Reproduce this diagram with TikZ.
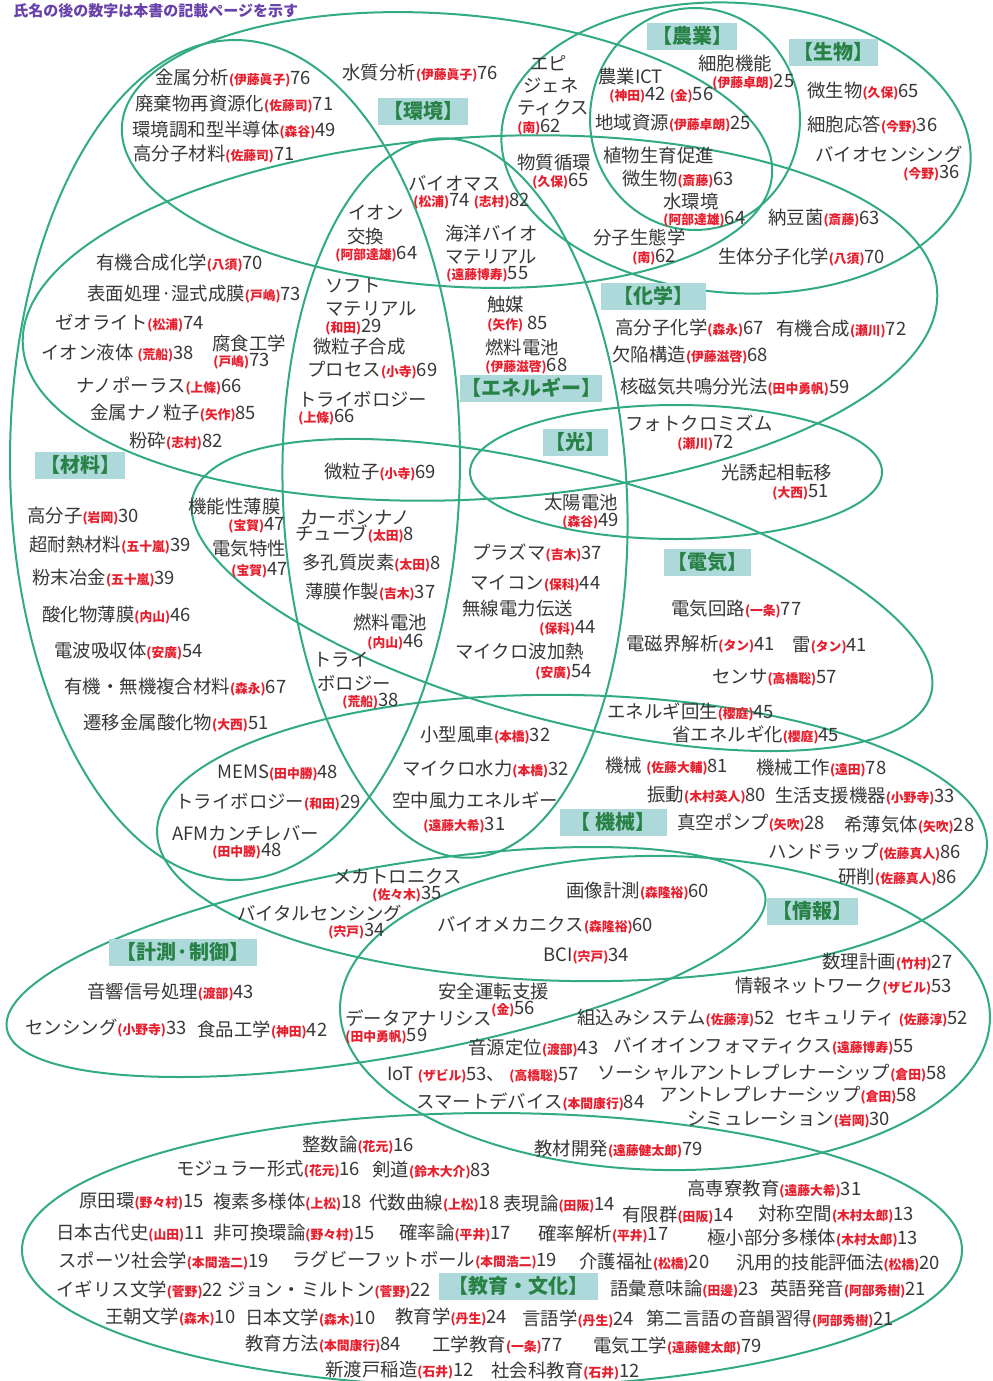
\documentclass[tikz,border=0pt]{standalone}
\usepackage{fontspec}
\setmainfont{Noto Sans CJK JP}
\definecolor{lgreen}{RGB}{50,170,130}
\definecolor{lblue}{RGB}{173,217,219}
\definecolor{dgreen}{RGB}{40,130,70}
\definecolor{nred}{RGB}{232,30,45}
\definecolor{hpurple}{RGB}{105,65,170}
\definecolor{tgray}{RGB}{55,55,55}
\newcommand\nmred[1]{{\color{nred}\fontsize{6.4}{7}\selectfont\bfseries(#1)}}
\tikzset{
  ell/.style={draw=lgreen, line width=1pt},
  itm/.style={anchor=west, inner sep=0pt, text=tgray, font=\fontsize{9.2}{11}\selectfont},
  lbl/.style={fill=lblue, text=dgreen, inner sep=0pt, minimum height=13.5pt, font=\fontsize{10}{12}\selectfont\bfseries},
  hdr/.style={anchor=west, inner sep=0pt, text=hpurple, font=\fontsize{7.5}{9}\selectfont\bfseries}
}
\begin{document}
\begin{tikzpicture}[x=0.5pt,y=-0.5pt]
\useasboundingbox (0,0) rectangle (992,1381);
\clip (0,0) rectangle (992,1381);
% ellipses
\draw[ell, rotate around={-4.4:(447,150)}] (447,150) ellipse [x radius=326, y radius=136];
\draw[ell] (695,119) ellipse [x radius=105, y radius=111];
\draw[ell, rotate around={-4:(736,148)}] (736,148) ellipse [x radius=235, y radius=145];
\draw[ell, rotate around={3.4:(480,318)}] (480,318) ellipse [x radius=458, y radius=181];
\draw[ell, rotate around={2.5:(455,498)}] (455,498) ellipse [x radius=172, y radius=360];
\draw[ell] (676,472) ellipse [x radius=206, y radius=67];
\draw[ell] (235,460) ellipse [x radius=225, y radius=420];
\draw[ell, rotate around={-15:(562,595)}] (562,595) ellipse [x radius=382, y radius=125];
\draw[ell, rotate around={-1:(572,838)}] (572,838) ellipse [x radius=415, y radius=143];
\draw[ell, rotate around={10:(386,962)}] (386,962) ellipse [x radius=385, y radius=95];
\draw[ell, rotate around={-1:(665,1013)}] (665,1013) ellipse [x radius=325, y radius=157];
\draw[ell] (492,1250) ellipse [x radius=470, y radius=137];
% header
\node[hdr] (hdr) at (13,11) {氏名の後の数字は本書の記載ページを示す};
% labels
\node[lbl, minimum width=45pt] (lbEnv) at (423,111) {【環境】};
\node[lbl, minimum width=45pt] (lbAgr) at (692,36) {【農業】};
\node[lbl, minimum width=44.5pt] (lbBio) at (833,52) {【生物】};
\node[lbl, minimum width=52.5pt] (lbChem) at (653,296) {【化学】};
\node[lbl, minimum width=71pt] (lbEne) at (531,388) {【エネルギー】};
\node[lbl, minimum width=32.5pt] (lbLight) at (575,442) {【光】};
\node[lbl, minimum width=45pt] (lbMat) at (80,465) {【材料】};
\node[lbl, minimum width=43.5pt] (lbElec) at (707,562) {【電気】};
\node[lbl, minimum width=53.5pt] (lbMech) at (613,822) {【 機械】};
\node[lbl, minimum width=74pt] (lbMeas) at (183,952) {【計測·制御】};
\node[lbl, minimum width=45.5pt] (lbInfo) at (812,911) {【情報】};
\node[lbl, minimum width=79.5pt] (lbEdu) at (518,1286) {【教育・文化】};
% environment / materials top
\node[itm] (a1) at (155,78) {金属分析\nmred{伊藤眞子}76};
\node[itm] (a2) at (135,104) {廃棄物再資源化\nmred{佐藤司}71};
\node[itm] (a3) at (132,130) {環境調和型半導体\nmred{森谷}49};
\node[itm] (a4) at (133,154) {高分子材料\nmred{佐藤司}71};
\node[itm] (a5) at (342,73) {水質分析\nmred{伊藤眞子}76};
\node[itm] (a6) at (408,183) {バイオマス};
\node[itm] (a7) at (413,201) {\nmred{松浦}74 \nmred{志村}82};
\node[itm] (a8) at (348,213) {イオン};
\node[itm] (a9) at (347,237) {交換};
\node[itm] (a10) at (335,254) {\nmred{阿部達雄}64};
\node[itm] (a11) at (445,233) {海洋バイオ};
\node[itm] (a12) at (445,257) {マテリアル};
\node[itm] (a13) at (446,274) {\nmred{遠藤博寿}55};
\node[itm] (a14) at (325,286) {ソフト};
\node[itm] (a15) at (325,309) {マテリアル};
\node[itm] (a16) at (325,327) {\nmred{和田}29};
\node[itm] (a17) at (487,305) {触媒};
\node[itm] (a18) at (487,324) {\nmred{矢作} 85};
\node[itm] (a19) at (485,347) {燃料電池};
\node[itm] (a20) at (485,366) {\nmred{伊藤滋啓}68};
\node[itm] (a21) at (313,347) {微粒子合成};
\node[itm] (a22) at (307,370) {プロセス\nmred{小寺}69};
\node[itm] (a23) at (298,399) {トライボロジー};
\node[itm] (a24) at (298,417) {\nmred{上條}66};
% biology / agriculture
\node[itm] (b1) at (530,63) {エピ};
\node[itm] (b2) at (523,86) {ジェネ};
\node[itm] (b3) at (517,108) {ティクス};
\node[itm] (b4) at (517,127) {\nmred{南}62};
\node[itm] (b5) at (598,77) {農業ICT};
\node[itm] (b6) at (609,95) {\nmred{神田}42 \nmred{金}56};
\node[itm] (b7) at (698,64) {細胞機能};
\node[itm] (b8) at (712,82) {\nmred{伊藤卓朗}25};
\node[itm] (b9) at (595,123) {地域資源\nmred{伊藤卓朗}25};
\node[itm] (b10) at (517,163) {物質循環};
\node[itm] (b11) at (532,181) {\nmred{久保}65};
\node[itm] (b12) at (603,156) {植物生育促進};
\node[itm] (b13) at (622,179) {微生物\nmred{斎藤}63};
\node[itm] (b14) at (663,202) {水環境};
\node[itm] (b15) at (663,219) {\nmred{阿部達雄}64};
\node[itm] (b16) at (593,238) {分子生態学};
\node[itm] (b17) at (632,257) {\nmred{南}62};
\node[itm] (b18) at (807,91) {微生物\nmred{久保}65};
\node[itm] (b19) at (807,125) {細胞応答\nmred{今野}36};
\node[itm] (b20) at (815,154) {バイオセンシング};
\node[itm] (b21) at (903,173) {\nmred{今野}36};
\node[itm] (b22) at (768,218) {納豆菌\nmred{斎藤}63};
\node[itm] (b23) at (718,257) {生体分子化学\nmred{八須}70};
% chemistry
\node[itm] (c1) at (615,328) {高分子化学\nmred{森永}67};
\node[itm] (c2) at (776,329) {有機合成\nmred{瀬川}72};
\node[itm] (c3) at (612,355) {欠陥構造\nmred{伊藤滋啓}68};
\node[itm] (c4) at (620,387) {核磁気共鳴分光法\nmred{田中勇帆}59};
\node[itm] (c5) at (96,263) {有機合成化学\nmred{八須}70};
\node[itm] (c6) at (87,294) {表面処理·湿式成膜\nmred{戸嶋}73};
\node[itm] (c7) at (55,323) {ゼオライト\nmred{松浦}74};
\node[itm] (c8) at (41,353) {イオン液体 \nmred{荒船}38};
\node[itm] (c9) at (212,343) {腐食工学};
\node[itm] (c10) at (213,361) {\nmred{戸嶋}73};
\node[itm] (c11) at (76,386) {ナノポーラス\nmred{上條}66};
\node[itm] (c12) at (90,413) {金属ナノ粒子\nmred{矢作}85};
\node[itm] (c13) at (129,441) {粉砕\nmred{志村}82};
% light / energy
\node[itm] (d1) at (324,472) {微粒子\nmred{小寺}69};
\node[itm] (d2) at (625,423) {フォトクロミズム};
\node[itm] (d3) at (677,443) {\nmred{瀬川}72};
\node[itm] (d4) at (721,473) {光誘起相転移};
\node[itm] (d5) at (772,492) {\nmred{大西}51};
\node[itm] (d6) at (544,503) {太陽電池};
\node[itm] (d7) at (562,521) {\nmred{森谷}49};
% materials
\node[itm] (m1) at (27,516) {高分子\nmred{岩岡}30};
\node[itm] (m2) at (29,545) {超耐熱材料\nmred{五十嵐}39};
\node[itm] (m3) at (32,578) {粉末冶金\nmred{五十嵐}39};
\node[itm] (m4) at (42,615) {酸化物薄膜\nmred{内山}46};
\node[itm] (m5) at (54,651) {電波吸収体\nmred{安廣}54};
\node[itm] (m6) at (64,687) {有機・無機複合材料\nmred{森永}67};
\node[itm] (m7) at (83,723) {遷移金属酸化物\nmred{大西}51};
\node[itm] (m8) at (188,507) {機能性薄膜};
\node[itm] (m9) at (228,525) {\nmred{宝賀}47};
\node[itm] (m10) at (212,549) {電気特性};
\node[itm] (m11) at (231,570) {\nmred{宝賀}47};
\node[itm] (m12) at (300,517) {カーボンナノ};
\node[itm] (m13) at (295,534) {チューブ\nmred{太田}8};
\node[itm] (m14) at (302,563) {多孔質炭素\nmred{太田}8};
\node[itm] (m15) at (305,592) {薄膜作製\nmred{吉木}37};
\node[itm] (m16) at (353,622) {燃料電池};
\node[itm] (m17) at (367,642) {\nmred{内山}46};
\node[itm] (m18) at (313,660) {トライ};
\node[itm] (m19) at (317,683) {ボロジー};
\node[itm] (m20) at (342,701) {\nmred{荒船}38};
% electricity
\node[itm] (e1) at (472,553) {プラズマ\nmred{吉木}37};
\node[itm] (e2) at (470,584) {マイコン\nmred{保科}44};
\node[itm] (e3) at (462,609) {無線電力伝送};
\node[itm] (e4) at (539,628) {\nmred{保科}44};
\node[itm] (e5) at (455,652) {マイクロ波加熱};
\node[itm] (e6) at (535,672) {\nmred{安廣}54};
\node[itm] (e7) at (671,609) {電気回路\nmred{一条}77};
\node[itm] (e8) at (626,644) {電磁界解析\nmred{タン}41};
\node[itm] (e9) at (792,645) {雷\nmred{タン}41};
\node[itm] (e10) at (712,678) {センサ\nmred{高橋聡}57};
\node[itm] (e11) at (607,712) {エネルギ回生\nmred{櫻庭}45};
\node[itm] (e12) at (672,735) {省エネルギ化\nmred{櫻庭}45};
% machinery
\node[itm] (k1) at (420,735) {小型風車\nmred{本橋}32};
\node[itm] (k2) at (402,769) {マイクロ水力\nmred{本橋}32};
\node[itm] (k3) at (392,800) {空中風力エネルギー};
\node[itm] (k4) at (423,825) {\nmred{遠藤大希}31};
\node[itm] (k5) at (217,773) {MEMS\nmred{田中勝}48};
\node[itm] (k6) at (175,802) {トライボロジー\nmred{和田}29};
\node[itm] (k7) at (172,833) {AFMカンチレバー};
\node[itm] (k8) at (212,851) {\nmred{田中勝}48};
\node[itm] (k9) at (605,766) {機械 \nmred{佐藤大輔}81};
\node[itm] (k10) at (756,768) {機械工作\nmred{遠田}78};
\node[itm] (k11) at (647,795) {振動\nmred{木村英人}80};
\node[itm] (k12) at (775,796) {生活支援機器\nmred{小野寺}33};
\node[itm] (k13) at (677,823) {真空ポンプ\nmred{矢吹}28};
\node[itm] (k14) at (844,825) {希薄気体\nmred{矢吹}28};
\node[itm] (k15) at (768,852) {ハンドラップ\nmred{佐藤真人}86};
\node[itm] (k16) at (838,877) {研削\nmred{佐藤真人}86};
\node[itm] (k17) at (333,876) {メカトロニクス};
\node[itm] (k18) at (372,894) {\nmred{佐々木}35};
\node[itm] (k19) at (237,913) {バイタルセンシング};
\node[itm] (k20) at (328,931) {\nmred{宍戸}34};
% measurement / information
\node[itm] (s1) at (566,891) {画像計測\nmred{森隆裕}60};
\node[itm] (s2) at (437,925) {バイオメカニクス\nmred{森隆裕}60};
\node[itm] (s3) at (543,956) {BCI\nmred{宍戸}34};
\node[itm] (s4) at (87,992) {音響信号処理\nmred{渡部}43};
\node[itm] (s5) at (25,1028) {センシング\nmred{小野寺}33};
\node[itm] (s6) at (197,1030) {食品工学\nmred{神田}42};
\node[itm] (s7) at (438,992) {安全運転支援};
\node[itm] (s8) at (491,1009) {\nmred{金}56};
\node[itm] (s9) at (345,1018) {データアナリシス};
\node[itm] (s10) at (345,1036) {\nmred{田中勇帆}59};
\node[itm] (s11) at (468,1048) {音源定位\nmred{渡部}43};
\node[itm] (s12) at (387,1075) {IoT \nmred{ザビル}53、 \nmred{高橋聡}57};
\node[itm] (s13) at (416,1102) {スマートデバイス\nmred{本間康行}84};
\node[itm] (i1) at (822,962) {数理計画\nmred{竹村}27};
\node[itm] (i2) at (735,986) {情報ネットワーク\nmred{ザビル}53};
\node[itm] (i3) at (577,1018) {組込みシステム\nmred{佐藤淳}52};
\node[itm] (i4) at (785,1019) {セキュリティ \nmred{佐藤淳}52};
\node[itm] (i5) at (613,1046) {バイオインフォマティクス\nmred{遠藤博寿}55};
\node[itm] (i6) at (597,1073) {ソーシャルアントレプレナーシップ\nmred{倉田}58};
\node[itm] (i7) at (659,1095) {アントレプレナーシップ\nmred{倉田}58};
\node[itm] (i8) at (687,1120) {シミュレーション\nmred{岩岡}30};
% education / culture
\node[itm] (u1) at (534,1149) {教材開発\nmred{遠藤健太郎}79};
\node[itm] (u2) at (302,1145) {整数論\nmred{花元}16};
\node[itm] (u3) at (176,1169) {モジュラー形式\nmred{花元}16};
\node[itm] (u4) at (372,1170) {剣道\nmred{鈴木大介}83};
\node[itm] (u5) at (79,1201) {原田環\nmred{野々村}15};
\node[itm] (u6) at (213,1202) {複素多様体\nmred{上松}18};
\node[itm] (u7) at (369,1203) {代数曲線\nmred{上松}18};
\node[itm] (u8) at (503,1204) {表現論\nmred{田阪}14};
\node[itm] (u9) at (687,1189) {高専寮教育\nmred{遠藤大希}31};
\node[itm] (u10) at (622,1215) {有限群\nmred{田阪}14};
\node[itm] (u11) at (758,1214) {対称空間\nmred{木村太郎}13};
\node[itm] (u12) at (56,1233) {日本古代史\nmred{山田}11};
\node[itm] (u13) at (213,1233) {非可換環論\nmred{野々村}15};
\node[itm] (u14) at (399,1233) {確率論\nmred{平井}17};
\node[itm] (u15) at (538,1234) {確率解析\nmred{平井}17};
\node[itm] (u16) at (707,1238) {極小部分多様体\nmred{木村太郎}13};
\node[itm] (u17) at (58,1261) {スポーツ社会学\nmred{本間浩二}19};
\node[itm] (u18) at (292,1260) {ラグビーフットボール\nmred{本間浩二}19};
\node[itm] (u19) at (579,1262) {介護福祉\nmred{松橋}20};
\node[itm] (u20) at (736,1263) {汎用的技能評価法\nmred{松橋}20};
\node[itm] (u21) at (56,1290) {イギリス文学\nmred{菅野}22};
\node[itm] (u22) at (227,1290) {ジョン・ミルトン\nmred{菅野}22};
\node[itm] (u23) at (610,1289) {語彙意味論\nmred{田邊}23};
\node[itm] (u24) at (770,1289) {英語発音\nmred{阿部秀樹}21};
\node[itm] (u25) at (105,1317) {王朝文学\nmred{森木}10};
\node[itm] (u26) at (245,1318) {日本文学\nmred{森木}10};
\node[itm] (u27) at (395,1317) {教育学\nmred{丹生}24};
\node[itm] (u28) at (522,1319) {言語学\nmred{丹生}24};
\node[itm] (u29) at (646,1319) {第二言語の音韻習得\nmred{阿部秀樹}21};
\node[itm] (u30) at (245,1344) {教育方法\nmred{本間康行}84};
\node[itm] (u31) at (432,1345) {工学教育\nmred{一条}77};
\node[itm] (u32) at (593,1346) {電気工学\nmred{遠藤健太郎}79};
\node[itm] (u33) at (325,1370) {新渡戸稲造\nmred{石井}12};
\node[itm] (u34) at (491,1371) {社会科教育\nmred{石井}12};
\end{tikzpicture}
\end{document}
